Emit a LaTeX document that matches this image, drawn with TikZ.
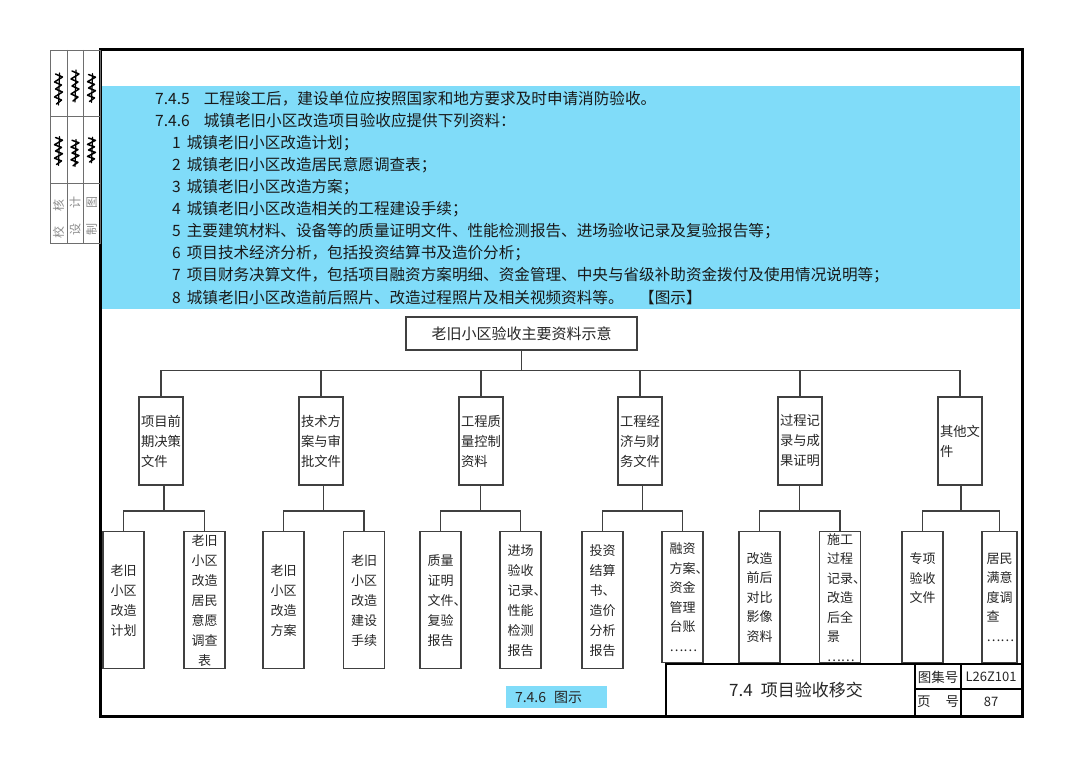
\documentclass[tikz,border=0pt]{standalone}
\usepackage{fontspec}
\setmainfont{Noto Sans CJK SC}
\usetikzlibrary{calc}

\definecolor{bandblue}{RGB}{128,220,249}
\definecolor{linegray}{RGB}{64,64,64}
\definecolor{stripgray}{RGB}{110,110,110}

\begin{document}
\begin{tikzpicture}[x=1pt,y=-1pt]
    \tikzstyle{every node}+=[inner sep=0pt]
    \tikzstyle{para}=[anchor=west,text=black!90,font=\fontsize{15.6}{18}\selectfont]
    \tikzstyle{tree}=[draw=linegray,line width=1.2pt]
    \tikzstyle{branch}=[draw=linegray,line width=1.4pt,minimum width=44,minimum height=88,text width=40,align=left,inner xsep=2,text=black!85,font=\fontsize{13.3}{20}\selectfont]
    \tikzstyle{leaf}=[draw=linegray,line width=1.4pt,anchor=north,minimum width=41,minimum height=137,text width=26,align=left,inner xsep=7.5,text=black!85,font=\fontsize{13}{20}\selectfont]
    \tikzstyle{leafshort}=[leaf,minimum height=131,font=\fontsize{13}{19.5}\selectfont]
    \tikzstyle{stamp}=[rotate=90,text=black!45,font=\fontsize{12}{12}\selectfont]
    \tikzset{autograph/.pic={
        \draw[line width=1.5pt,line cap=round,line join=round] (-3,-15) -- (4,-12) -- (-4,-7) -- (3,-4) -- (-3,0) -- (4,3) -- (-4,8) -- (3,11) -- (-2,15);
        \draw[line width=1.2pt,line cap=round] (1,-16) -- (0,16);}}
    \fill [white] (0,0) rectangle (1080,765);
    \useasboundingbox (0,0) rectangle (1080,765);

    \fill [bandblue] (102,86) rectangle (1020,309);
    \draw [line width=3pt] (100,50) rectangle (1022,716);

    \draw [stripgray,line width=0.9pt] (50,50) rectangle (100,243);
    \draw [stripgray,line width=0.9pt] (67,50) -- (67,243);
    \draw [stripgray,line width=0.9pt] (83,50) -- (83,243);
    \draw [stripgray,line width=0.9pt] (50,116) -- (100,116);
    \draw [stripgray,line width=0.9pt] (50,183) -- (100,183);
    \pic at (58.5,89) {autograph};
    \pic at (75,86) {autograph};
    \pic[yscale=0.9] at (91.5,88) {autograph};
    \pic[yscale=0.9] at (58.5,151) {autograph};
    \pic[yscale=0.85] at (75,153) {autograph};
    \pic[yscale=0.8] at (91.5,150) {autograph};
    \node [stamp] (check) at (58.5,219) {校\hspace{16pt}核};
    \node [stamp] (design) at (75,216) {设\hspace{16pt}计};
    \node [stamp] (drawn) at (91.5,216) {制\hspace{16pt}图};

    \node [para] (l1) at (155,99) {7.4.5\hspace{14pt}工程竣工后，建设单位应按照国家和地方要求及时申请消防验收。};
    \node [para] (l2) at (155,121) {7.4.6\hspace{14pt}城镇老旧小区改造项目验收应提供下列资料：};
    \node [para] (l3) at (172,143) {1\hspace{6pt}城镇老旧小区改造计划；};
    \node [para] (l4) at (172,165) {2\hspace{6pt}城镇老旧小区改造居民意愿调查表；};
    \node [para] (l5) at (172,187) {3\hspace{6pt}城镇老旧小区改造方案；};
    \node [para] (l6) at (172,209) {4\hspace{6pt}城镇老旧小区改造相关的工程建设手续；};
    \node [para] (l7) at (172,231) {5\hspace{6pt}主要建筑材料、设备等的质量证明文件、性能检测报告、进场验收记录及复验报告等；};
    \node [para] (l8) at (172,253) {6\hspace{6pt}项目技术经济分析，包括投资结算书及造价分析；};
    \node [para] (l9) at (172,275) {7\hspace{6pt}项目财务决算文件，包括项目融资方案明细、资金管理、中央与省级补助资金拨付及使用情况说明等；};
    \node [para] (l10) at (172,298) {8\hspace{6pt}城镇老旧小区改造前后照片、改造过程照片及相关视频资料等。\hspace{15.6pt}【图示】};

    \node [draw=linegray,line width=1.4pt,minimum width=231,minimum height=33,text=black!85,font=\fontsize{15}{18}\selectfont] (root) at (521.5,333.5) {老旧小区验收主要资料示意};

    \node [branch] (p1) at (161,441) {项目前\\期决策\\文件};
    \node [branch] (p2) at (321,441) {技术方\\案与审\\批文件};
    \node [branch] (p3) at (481,441) {工程质\\量控制\\资料};
    \node [branch] (p4) at (640,441) {工程经\\济与财\\务文件};
    \node [branch] (p5) at (800,441) {过程记\\录与成\\果证明};
    \node [branch] (p6) at (960,441) {其他文\\件};

    \node [leaf] (c1) at (123.5,531) {老旧\\小区\\改造\\计划};
    \node [leaf,align=center] (c2) at (204.5,531) {老旧\\小区\\改造\\居民\\意愿\\调查\\表};
    \node [leaf] (c3) at (283.5,531) {老旧\\小区\\改造\\方案};
    \node [leaf] (c4) at (364,531) {老旧\\小区\\改造\\建设\\手续};
    \node [leaf] (c5) at (440.5,531) {质量\\证明\\文件、\\复验\\报告};
    \node [leaf] (c6) at (520.5,531) {进场\\验收\\记录、\\性能\\检测\\报告};
    \node [leaf] (c7) at (602.5,531) {投资\\结算\\书、\\造价\\分析\\报告};
    \node [leafshort] (c8) at (682.5,531) {融资\\方案、\\资金\\管理\\台账\\……};
    \node [leafshort] (c9) at (759.5,531) {改造\\前后\\对比\\影像\\资料};
    \node [leafshort] (c10) at (840,531) {施工\\过程\\记录、\\改造\\后全\\景\\……};
    \node [leafshort] (c11) at (922.5,531) {专项\\验收\\文件\\\mbox{}\\\mbox{}};
    \node [leafshort,minimum width=35,inner xsep=4.5] (c12) at (999.5,531) {居民\\满意\\度调\\查\\……};

    \coordinate (bus) at (521.5,371);
    \draw [tree] (root.south) -- (bus);
    \draw [tree] (p1.north) -- ++(0,-26) -| (p6.north);
    \foreach \p in {p2,p3,p4,p5}
        \draw [tree] (\p.north) -- ++(0,-26);
    \foreach \p/\a/\b in {p1/c1/c2,p2/c3/c4,p3/c5/c6,p4/c7/c8,p5/c9/c10,p6/c11/c12} {
        \coordinate (m) at ($(\a.north)!0.5!(\b.north)$);
        \draw [tree] (\a.north) -- ++(0,-20) -| (\b.north);
        \draw [tree] (m |- \p.south) -- ($(m)+(0,-20)$);
    }

    \node [fill=bandblue,minimum width=101,minimum height=21.5,text width=83,align=left,inner xsep=9,text=black!85,font=\fontsize{14}{16}\selectfont] (figtag) at (556.5,697) {7.4.6\hspace{8pt}图示};

    \draw [line width=1.4pt] (666,664) rectangle (1022,716);
    \draw [line width=1.2pt] (915,664) -- (915,716);
    \draw [line width=1.2pt] (961,664) -- (961,716);
    \draw [line width=1.2pt] (915,689) -- (1022,689);
    \node [text=black!85,font=\fontsize{17}{20}\selectfont] (sheet) at (796,690) {7.4\hspace{8pt}项目验收移交};
    \node [text=black!85,font=\fontsize{13.5}{16}\selectfont] (atlas) at (938,677) {图集号};
    \node [text=black!85,font=\fontsize{13.5}{16}\selectfont] (page) at (938,702) {页\hspace{15pt}号};
    \node [text=black!85,font=\fontsize{13}{16}\selectfont] (atlasno) at (991,677) {L26Z101};
    \node [text=black!85,font=\fontsize{13}{16}\selectfont] (pageno) at (991,702) {87};
\end{tikzpicture}
\end{document}
